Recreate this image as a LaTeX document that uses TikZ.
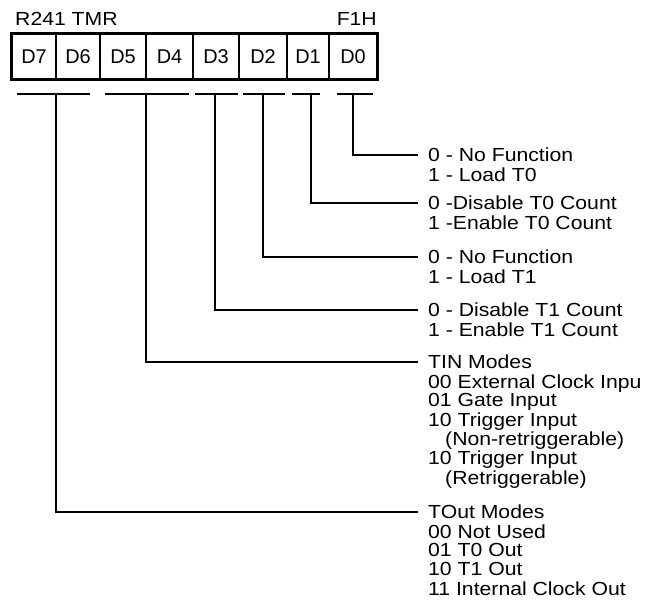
\documentclass[tikz,border=0pt]{standalone}
\usepackage{fontspec}
\setmainfont{Liberation Sans}[FakeStretch=1.12]
\newfontfamily\cellfont{Liberation Sans}
\usetikzlibrary{positioning}
\newcommand{\fieldtext}[1]{\begin{tabular}[t]{@{}l@{}}#1\end{tabular}}

\begin{document}
\begin{tikzpicture}[x=1bp, y=-1bp,
  bit/.style={draw, line width=1.6bp, minimum height=45bp, inner sep=0pt,
              font=\cellfont\fontsize{20}{24}\selectfont},
  bar/.style={line width=1.6bp},
  wire/.style={line width=1.4bp},
  desc/.style={anchor=base west, inner xsep=10bp, inner ysep=0pt,
               font=\fontsize{19}{18.7}\selectfont},
  hdr/.style={inner sep=0pt, font=\fontsize{19}{18.7}\selectfont},
]
\useasboundingbox (0,0) rectangle (662,614);

% register name and address
\node[hdr, anchor=base west] (reg) at (15,26)  {R241 TMR};
\node[hdr, anchor=base east] (adr) at (377,26) {F1H};

% bit cells
\foreach \n/\c/\w in {7/34/44bp, 6/78/44bp, 5/123/46bp, 4/169.5/47bp,
                      3/216/46bp, 2/263/48bp, 1/308/42bp, 0/353/48bp}
  \node[bit, minimum width=\w] (d\n) at (\c,56.5) {D\n};
\draw[line width=1.8bp] (d7.north west) rectangle (d0.south east);

% field bars
\foreach \a/\b/\m/\g in {17/90/56/g76, 105/189/146/g54, 195/238/215/g3,
                         243/285/263/g2, 292/320/311/g1, 337/373/353/g0} {
  \draw[bar] (\a,94) -- (\b,94);
  \coordinate (\g) at (\m,94);
}

% field descriptions
\node[desc] (t0)  at (418,161.8) {\fieldtext{0 - No Function\\1 - Load T0}};
\node[desc] (t1)  at (418,209.8) {\fieldtext{0 -Disable T0 Count\\1 -Enable T0 Count}};
\node[desc] (t2)  at (418,263.8) {\fieldtext{0 - No Function\\1 - Load T1}};
\node[desc] (t3)  at (418,316.8) {\fieldtext{0 - Disable T1 Count\\1 - Enable T1 Count}};
\node[desc] (t54) at (418,368.8) {\fieldtext{TIN Modes\\00 External Clock Inpu\\01 Gate Input\\
  10 Trigger Input\\\hspace*{17bp}(Non-retriggerable)\\10 Trigger Input\\
  \hspace*{17bp}(Retriggerable)}};
\node[desc] (t76) at (418,518.8) {\fieldtext{TOut Modes\\00 Not Used\\01 T0 Out\\10 T1 Out\\
  11 Internal Clock Out}};

\draw[wire] (g0)  |- ([yshift=6.8bp]t0.base west);
\draw[wire] (g1)  |- ([yshift=6.8bp]t1.base west);
\draw[wire] (g2)  |- ([yshift=6.8bp]t2.base west);
\draw[wire] (g3)  |- ([yshift=6.8bp]t3.base west);
\draw[wire] (g54) |- ([yshift=6.8bp]t54.base west);
\draw[wire] (g76) |- ([yshift=6.8bp]t76.base west);
\end{tikzpicture}
\end{document}
